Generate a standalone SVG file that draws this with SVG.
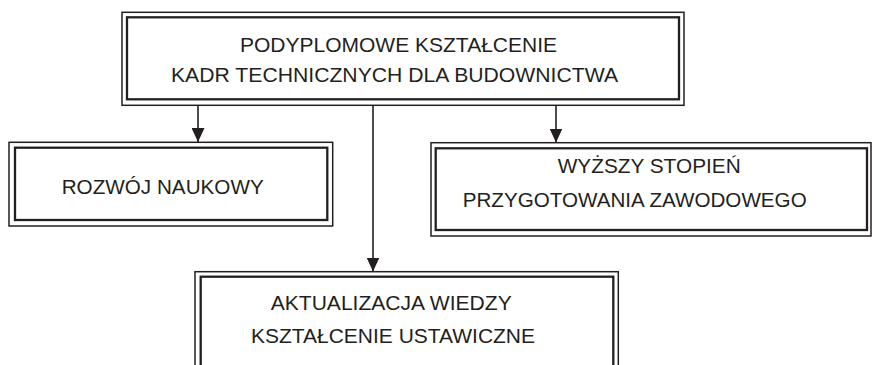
<svg xmlns="http://www.w3.org/2000/svg" width="872" height="365" viewBox="0 0 872 365">
<style>
.o{fill:none;stroke:#231f20;stroke-width:1.5}
.i{fill:none;stroke:#231f20;stroke-width:2.3}
.t{font-family:"Liberation Sans",Arial,sans-serif;font-size:21px;fill:#231f20}
.c{stroke:#231f20;stroke-width:1.6;fill:none}
</style>
<defs>
<marker id="ah" markerUnits="userSpaceOnUse" markerWidth="14" markerHeight="13" refX="14" refY="6.5" orient="auto">
<path d="M0,0 L14,6.5 L0,13 Z" fill="#231f20"/>
</marker>
</defs>
<rect width="872" height="365" fill="#ffffff"/>
<g id="connectors">
<line class="c" x1="198" y1="105" x2="198" y2="142" marker-end="url(#ah)"/>
<line class="c" x1="556" y1="105" x2="556" y2="142.5" marker-end="url(#ah)"/>
<line class="c" x1="373" y1="105" x2="373" y2="271.5" marker-end="url(#ah)"/>
</g>
<g id="top">
<rect class="o" x="122" y="12.3" width="562" height="93"/>
<rect class="i" x="127" y="17.3" width="552" height="82"/>
<text class="t" x="240" y="51.5" textLength="317" lengthAdjust="spacingAndGlyphs">PODYPLOMOWE KSZTAŁCENIE</text>
<text class="t" x="171" y="82" textLength="447" lengthAdjust="spacingAndGlyphs">KADR TECHNICZNYCH DLA BUDOWNICTWA</text>
</g>
<g id="left">
<rect class="o" x="9" y="142.3" width="323.7" height="83.7"/>
<rect class="i" x="15" y="147.7" width="312.3" height="72.3"/>
<text class="t" x="61.7" y="194" textLength="202" lengthAdjust="spacingAndGlyphs">ROZWÓJ NAUKOWY</text>
</g>
<g id="right">
<rect class="o" x="431" y="142.7" width="440" height="93.3"/>
<rect class="i" x="435.7" y="148.3" width="431.3" height="81.7"/>
<text class="t" x="557.7" y="173" textLength="183" lengthAdjust="spacingAndGlyphs">WYŻSZY STOPIEŃ</text>
<text class="t" x="462.7" y="206.5" textLength="344" lengthAdjust="spacingAndGlyphs">PRZYGOTOWANIA ZAWODOWEGO</text>
</g>
<g id="bottom">
<rect class="o" x="195" y="271.7" width="423.3" height="120"/>
<rect class="i" x="200.7" y="276.7" width="412.6" height="110"/>
<text class="t" x="270.7" y="309.5" textLength="241" lengthAdjust="spacingAndGlyphs">AKTUALIZACJA WIEDZY</text>
<text class="t" x="251" y="342.5" textLength="284" lengthAdjust="spacingAndGlyphs">KSZTAŁCENIE USTAWICZNE</text>
</g>
</svg>
